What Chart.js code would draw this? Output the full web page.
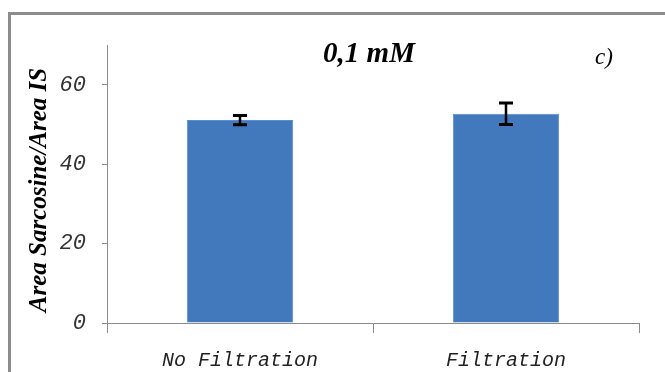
<!DOCTYPE html>
<html>
<head>
<meta charset="utf-8">
<script src="https://cdn.jsdelivr.net/npm/chart.js@4"></script>
<style>
  html,body{margin:0;padding:0;background:#fff;}
  #wrap{width:665px;height:372px;}
</style>
</head>
<body>
<div id="wrap"><canvas id="ch" width="665" height="372"></canvas></div>
<script>
// data
const categories = ['No Filtration', 'Filtration'];
const means = [51.1, 52.7];
const errors = [1.15, 2.7];
const yTicks = [0, 20, 40, 60];
const chartTitle = '0,1 mM';
const panelTag = 'c)';
const yTitle = 'Area Sarcosine/Area IS';

const AXIS = '#8a8a8a';

// grey frame (top + left edge only, rest is cut off)
const framePlugin = {
  id: 'frame',
  beforeDraw(chart){
    const c = chart.ctx;
    c.save();
    c.strokeStyle = '#8c8c8c';
    c.lineWidth = 3;
    c.beginPath();
    c.moveTo(9.5, 372); c.lineTo(9.5, 13.5); c.lineTo(665, 13.5);
    c.stroke();
    c.restore();
  }
};

// title, panel tag, rotated y title
const textPlugin = {
  id: 'texts',
  afterDraw(chart){
    const c = chart.ctx, a = chart.chartArea;
    c.save();
    c.fillStyle = '#000';
    c.font = 'italic bold 29px "Liberation Serif"';
    c.textAlign = 'center'; c.textBaseline = 'alphabetic';
    c.fillText(chartTitle, 369, 62);
    c.font = 'italic 23px "Liberation Serif"';
    c.textAlign = 'left';
    c.fillText(panelTag, 595, 64);
    c.translate(40, 190);
    c.rotate(-Math.PI / 2);
    c.font = 'italic bold 25px "Liberation Serif"';
    c.textAlign = 'center'; c.textBaseline = 'middle';
    c.fillText(yTitle, 0, 0);
    c.restore();
  }
};

// error bars from the errors array
const errPlugin = {
  id: 'errbars',
  afterDatasetsDraw(chart){
    const c = chart.ctx, ys = chart.scales.y;
    const meta = chart.getDatasetMeta(0);
    c.save();
    c.strokeStyle = '#000';
    meta.data.forEach((bar, i) => {
      const x = bar.x;
      const hi = ys.getPixelForValue(means[i] + errors[i]);
      const lo = ys.getPixelForValue(means[i] - errors[i]);
      c.lineWidth = 2.5;
      c.beginPath(); c.moveTo(x, hi); c.lineTo(x, lo); c.stroke();
      c.lineWidth = 3;
      c.beginPath();
      c.moveTo(x - 7, hi); c.lineTo(x + 7, hi);
      c.moveTo(x - 7, lo); c.lineTo(x + 7, lo);
      c.stroke();
    });
    c.restore();
  }
};

new Chart(document.getElementById('ch').getContext('2d'), {
  type: 'bar',
  data: {
    labels: categories,
    datasets: [{
      data: means,
      backgroundColor: '#4279bd',
      borderColor: '#5b8ccb',
      borderWidth: 1,
      barPercentage: 0.4,
      categoryPercentage: 1.0
    }]
  },
  options: {
    responsive: false,
    animation: false,
    layout: { padding: { top: 45, right: 26, left: 0, bottom: 0 } },
    plugins: { legend: { display: false }, title: { display: false }, tooltip: { enabled: false } },
    scales: {
      y: {
        min: 0, max: 70,
        afterBuildTicks(s){ s.ticks = yTicks.map(v => ({ value: v })); },
        afterFit(s){ s.width = 107; },
        border: { color: AXIS, width: 1 },
        grid: { drawOnChartArea: false, tickLength: 5, color: AXIS },
        ticks: { padding: 16, color: '#333', font: { family: '"Liberation Mono"', style: 'italic', size: 22 } }
      },
      x: {
        afterFit(s){ s.height = 49; },
        border: { color: AXIS, width: 1 },
        grid: { offset: true, drawOnChartArea: false, tickLength: 10, color: AXIS },
        ticks: { padding: 16, color: '#222', font: { family: '"Liberation Mono"', style: 'italic', size: 20 } }
      }
    }
  },
  plugins: [framePlugin, errPlugin, textPlugin]
});
</script>
</body>
</html>
